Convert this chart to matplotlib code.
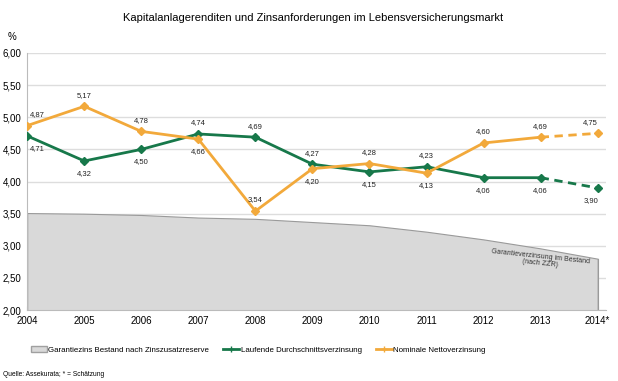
import matplotlib
matplotlib.use("Agg")
import matplotlib.pyplot as plt
from matplotlib.patches import Patch
from matplotlib.lines import Line2D

plt.rcParams['font.family'] = ['Liberation Sans', 'DejaVu Sans']

years = [2004, 2005, 2006, 2007, 2008, 2009, 2010, 2011, 2012, 2013, 2014]
year_labels = ["2004", "2005", "2006", "2007", "2008", "2009", "2010", "2011", "2012", "2013", "2014*"]
garantie = [3.51, 3.50, 3.48, 3.44, 3.42, 3.37, 3.32, 3.22, 3.10, 2.96, 2.80]
laufend = [4.71, 4.32, 4.50, 4.74, 4.69, 4.27, 4.15, 4.23, 4.06, 4.06, 3.90]
netto = [4.87, 5.17, 4.78, 4.66, 3.54, 4.20, 4.28, 4.13, 4.60, 4.69, 4.75]
# label placement: 1 = above, -1 = below
laufend_pos = [-1, -1, -1, 1, 1, 1, -1, 1, -1, -1, -1]
netto_pos = [1, 1, 1, -1, 1, -1, 1, -1, 1, 1, 1]
yticks = [2.0, 2.5, 3.0, 3.5, 4.0, 4.5, 5.0, 5.5, 6.0]

green = "#17784a"
orange = "#f2a93b"
gray_fill = "#d9d9d9"

fig = plt.figure(figsize=(6.18, 3.81), dpi=100)
ax = fig.add_axes([0.044, 0.186, 0.937, 0.675])

ax.fill_between(years, 2.0, garantie, color=gray_fill, edgecolor="#9a9a9a", linewidth=0.8, zorder=1)
ax.plot([2014, 2014], [2.0, garantie[-1]], color="#9a9a9a", lw=0.8, zorder=1)

def draw(vals, color, pos):
    ax.plot(years[:-1], vals[:-1], color=color, lw=2.0, marker="D", ms=4, zorder=3)
    ax.plot(years[-2:], vals[-2:], color=color, lw=2.0, ls=(0, (3, 2)), zorder=3)
    ax.plot(years[-1:], vals[-1:], color=color, marker="D", ms=4, ls="none", zorder=3)
    for i, (x, v, p) in enumerate(zip(years, vals, pos)):
        off = 8 if p > 0 else -9
        dx = 7 if i == 0 else (-5 if i == len(years) - 1 else 0)
        ax.annotate(f"{v:.2f}".replace(".", ","), (x, v), xytext=(dx, off), textcoords="offset points",
                    ha="center", va="center", fontsize=5.5, color="#222222", zorder=4)

draw(laufend, green, laufend_pos)
draw(netto, orange, netto_pos)

ax.set_xlim(2004, 2014.15)
ax.set_ylim(2.0, 6.0)
ax.set_yticks(yticks)
ax.set_yticklabels([f"{t:.2f}".replace(".", ",") for t in yticks], fontsize=7)
ax.set_xticks(years)
ax.set_xticklabels(year_labels, fontsize=7)
ax.tick_params(axis="y", length=0, pad=4)
ax.tick_params(axis="x", length=3, direction="in", color="#bbbbbb", pad=4)
ax.grid(axis="y", color="#dddddd", lw=1.0, zorder=0)
ax.set_axisbelow(True)
for s in ["top", "right"]:
    ax.spines[s].set_visible(False)
ax.spines["left"].set_color("#bbbbbb")
ax.spines["bottom"].set_color("#bbbbbb")

ax.text(2013.0, 2.78, "Garantieverzinsung im Bestand\n(nach ZZR)", fontsize=5, ha="center", va="center",
        rotation=-6, color="#333333", zorder=4, linespacing=1.0)

fig.text(0.506, 0.953, "Kapitalanlagerenditen und Zinsanforderungen im Lebensversicherungsmarkt",
         ha="center", va="center", fontsize=8)
fig.text(0.013, 0.903, "%", fontsize=7, ha="left", va="center")

handles = [Patch(facecolor=gray_fill, edgecolor="#a0a0a0", label="Garantiezins Bestand nach Zinszusatzreserve"),
           Line2D([], [], color=green, lw=2, marker="+", ms=5, label="Laufende Durchschnittsverzinsung"),
           Line2D([], [], color=orange, lw=2, marker="+", ms=5, label="Nominale Nettoverzinsung")]
fig.legend(handles=handles, loc="center", bbox_to_anchor=(0.418, 0.082), ncol=3, frameon=False,
           fontsize=5.7, handlelength=2.0, handletextpad=0.2, columnspacing=1.8)

fig.text(0.005, 0.016, "Quelle: Assekurata; * = Schätzung", fontsize=4.8, ha="left", va="center")

fig.savefig("out.png", dpi=100)
